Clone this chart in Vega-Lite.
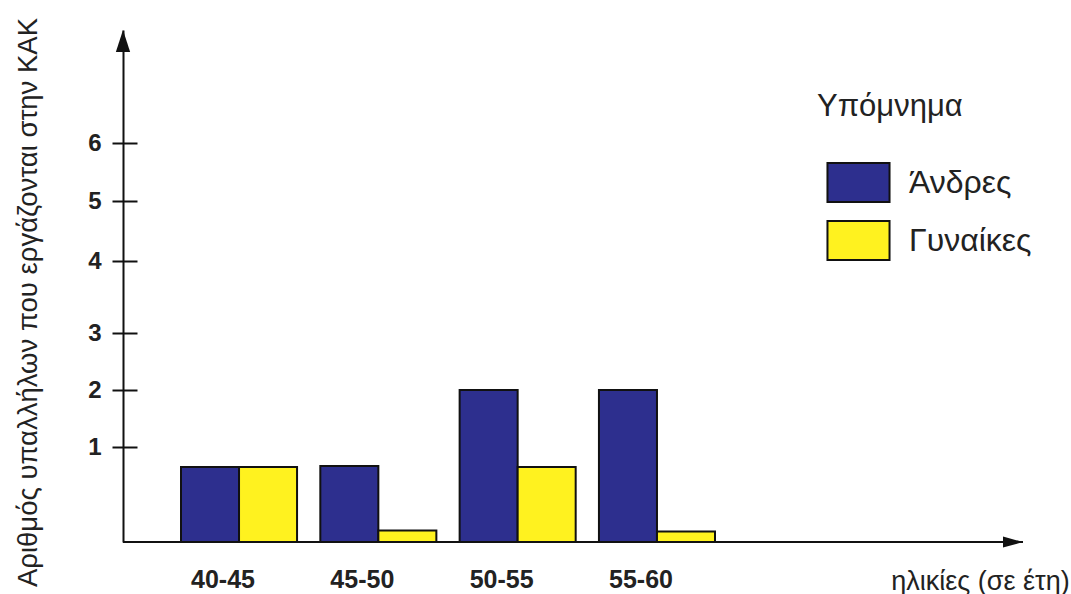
{
  "$schema": "https://vega.github.io/schema/vega-lite/v6.json",
  "width": 900,
  "height": 512,
  "autosize": {"type": "none"},
  "padding": {"left": 123, "top": 30, "right": 48, "bottom": 52},
  "background": "white",
  "config": {"view": {"stroke": null}, "font": "Liberation Sans"},
  "data": {
    "values": [
      {"age": "40-45", "sex": "Άνδρες", "count": 0.79},
      {"age": "40-45", "sex": "Γυναίκες", "count": 0.79},
      {"age": "45-50", "sex": "Άνδρες", "count": 0.8},
      {"age": "45-50", "sex": "Γυναίκες", "count": 0.12},
      {"age": "50-55", "sex": "Άνδρες", "count": 2},
      {"age": "50-55", "sex": "Γυναίκες", "count": 0.79},
      {"age": "55-60", "sex": "Άνδρες", "count": 2},
      {"age": "55-60", "sex": "Γυναίκες", "count": 0.11}
    ]
  },
  "layer": [
    {
      "mark": {"type": "bar", "stroke": "#111", "strokeWidth": 2, "opacity": 1},
      "encoding": {
        "x": {
          "field": "age",
          "type": "nominal",
          "sort": null,
          "scale": {"range": [58, 592], "paddingInner": 0.167, "paddingOuter": 0},
          "axis": {
            "title": "ηλικίες (σε έτη)",
            "titleX": 857,
            "titleY": 39,
            "titleAlign": "center",
            "titleBaseline": "middle",
            "titleFontSize": 27,
            "titleFontWeight": "normal",
            "titleColor": "#222",
            "labelAngle": 0,
            "labelFontSize": 25,
            "labelFontWeight": "bold",
            "labelColor": "#222",
            "labelOffset": -16,
            "labelPadding": 25,
            "ticks": false,
            "domain": false
          }
        },
        "xOffset": {
          "field": "sex",
          "type": "nominal",
          "sort": ["Άνδρες", "Γυναίκες"],
          "scale": {"paddingInner": 0, "paddingOuter": 0}
        },
        "y": {
          "field": "count",
          "type": "quantitative",
          "scale": {
            "domain": [0, 1, 2, 3, 4, 5, 6, 7],
            "range": [512, 417, 360, 303, 231, 171, 113, 0],
            "nice": false
          },
          "axis": {
            "values": [1, 2, 3, 4, 5, 6],
            "title": "Αριθμός υπαλλήλων που εργάζονται στην ΚΑΚ",
            "titleX": -95,
            "titleY": 272,
            "titleAlign": "center",
            "titleBaseline": "middle",
            "titleFontSize": 27.5,
            "titleFontWeight": "normal",
            "titleColor": "#222",
            "labelFontSize": 24,
            "labelFontWeight": "bold",
            "labelColor": "#222",
            "labelPadding": 11,
            "tickSize": 11,
            "tickColor": "#111",
            "tickWidth": 2,
            "domainColor": "#111",
            "domainWidth": 2,
            "grid": false
          }
        },
        "color": {
          "field": "sex",
          "type": "nominal",
          "scale": {"domain": ["Άνδρες", "Γυναίκες"], "range": ["#2d2f8e", "#fff21f"]},
          "legend": {
            "orient": "none",
            "legendX": 694,
            "legendY": 62,
            "title": "Υπόμνημα",
            "titleFontSize": 31,
            "titleFontWeight": "normal",
            "titleColor": "#222",
            "titlePadding": 39,
            "symbolType": "M-1.6,-1H1.6V1H-1.6Z",
            "symbolSize": 1505,
            "symbolStrokeColor": "#111",
            "symbolStrokeWidth": 2,
            "symbolOpacity": 1,
            "symbolOffset": 21,
            "labelFontSize": 32,
            "labelColor": "#222",
            "labelOffset": 30,
            "rowPadding": 11
          }
        }
      }
    },
    {
      "data": {"values": [{}]},
      "layer": [
        {
          "mark": {"type": "rule", "color": "#111", "strokeWidth": 2},
          "encoding": {
            "x": {"datum": 0, "type": "quantitative", "scale": {"domain": [0, 1]}, "axis": null},
            "x2": {"datum": 1},
            "y": {
              "datum": 0,
              "type": "quantitative",
              "axis": {"orient": "left", "values": [1, 2, 3, 4, 5, 6], "tickSize": -14, "tickWidth": 2, "tickColor": "#111", "labels": false, "domain": false, "title": null, "grid": false}
            }
          }
        },
        {
          "mark": {"type": "point", "shape": "M0,0L0.65,2L-0.65,2Z", "size": 484, "filled": true, "color": "#111", "opacity": 1},
          "encoding": {
            "x": {"datum": 0, "type": "quantitative", "scale": {"domain": [0, 1]}, "axis": null},
            "y": {
              "datum": 7,
              "type": "quantitative",
              "axis": {"orient": "left", "values": [1, 2, 3, 4, 5, 6], "tickSize": -14, "tickWidth": 2, "tickColor": "#111", "labels": false, "domain": false, "title": null, "grid": false}
            }
          }
        },
        {
          "mark": {"type": "point", "shape": "M0,0L-2,-0.55L-2,0.55Z", "size": 400, "filled": true, "color": "#111", "opacity": 1},
          "encoding": {
            "x": {"datum": 1, "type": "quantitative", "scale": {"domain": [0, 1]}, "axis": null},
            "y": {
              "datum": 0,
              "type": "quantitative",
              "axis": {"orient": "left", "values": [1, 2, 3, 4, 5, 6], "tickSize": -14, "tickWidth": 2, "tickColor": "#111", "labels": false, "domain": false, "title": null, "grid": false}
            }
          }
        }
      ]
    }
  ],
  "resolve": {"scale": {"x": "independent"}, "axis": {"y": "independent"}}
}
